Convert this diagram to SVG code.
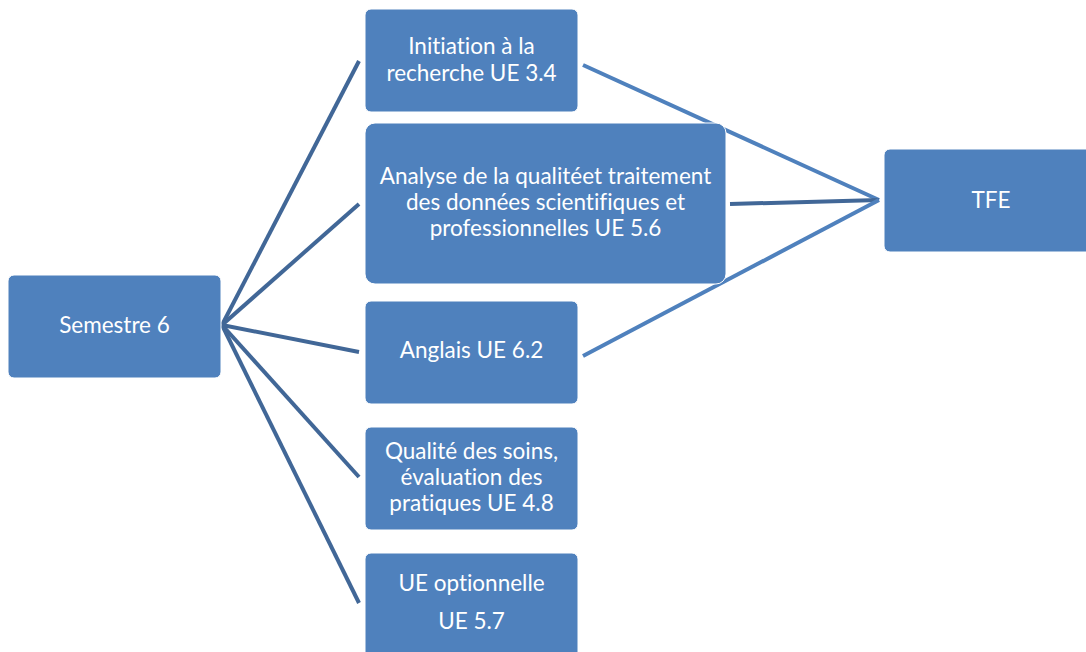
<svg xmlns="http://www.w3.org/2000/svg" width="1086" height="652" viewBox="0 0 1086 652">
<style>
.box{fill:#4f81bd;stroke:#ffffff;stroke-width:1}
.t{font-family:Lato,"Open Sans","Liberation Sans",sans-serif;font-size:22.5px;fill:#ffffff;text-anchor:middle;font-variant-ligatures:none;font-feature-settings:"liga" 0}
.cl{stroke:#416797;stroke-width:4;fill:none}
.cr{stroke:#4f81bd;stroke-width:4;fill:none}
</style>
<rect width="1086" height="652" fill="#ffffff"/>
<g id="connectors">
<line class="cl" x1="222" y1="325" x2="359" y2="61"/>
<line class="cl" x1="222" y1="325" x2="359" y2="204"/>
<line class="cl" x1="222" y1="325" x2="359" y2="352"/>
<line class="cl" x1="222" y1="325" x2="359" y2="477"/>
<line class="cl" x1="222" y1="325" x2="359" y2="603"/>
<line class="cr" x1="583" y1="65" x2="879" y2="200"/>
<line class="cl" x1="730" y1="204" x2="879" y2="200"/>
<line class="cr" x1="583" y1="356" x2="879" y2="200"/>
</g>
<g id="semestre6">
<rect class="box" x="8" y="275" width="213" height="103" rx="6"/>
<text class="t" x="114.5" y="333">Semestre 6</text>
</g>
<g id="initiation">
<rect class="box" x="365" y="9" width="213" height="103" rx="6"/>
<text class="t" x="471.5" y="54">Initiation à la</text>
<text class="t" x="471.5" y="81">recherche UE 3.4</text>
</g>
<g id="analyse">
<rect class="box" x="365" y="123" width="361" height="161" rx="10"/>
<text class="t" x="545.5" y="184">Analyse de la qualitéet traitement</text>
<text class="t" x="545.5" y="210">des données scientifiques et</text>
<text class="t" x="545.5" y="236">professionnelles UE 5.6</text>
</g>
<g id="anglais">
<rect class="box" x="365" y="301" width="213" height="103" rx="6"/>
<text class="t" x="471.5" y="358">Anglais UE 6.2</text>
</g>
<g id="qualite">
<rect class="box" x="365" y="427" width="213" height="103" rx="6"/>
<text class="t" x="471.5" y="459">Qualité des soins,</text>
<text class="t" x="471.5" y="485">évaluation des</text>
<text class="t" x="471.5" y="511">pratiques UE 4.8</text>
</g>
<g id="optionnelle">
<rect class="box" x="365" y="553" width="213" height="110" rx="6"/>
<text class="t" x="471.5" y="591">UE optionnelle</text>
<text class="t" x="471.5" y="629">UE 5.7</text>
</g>
<g id="tfe">
<rect class="box" x="884" y="149" width="213" height="103" rx="6"/>
<text class="t" x="991" y="208">TFE</text>
</g>
</svg>
